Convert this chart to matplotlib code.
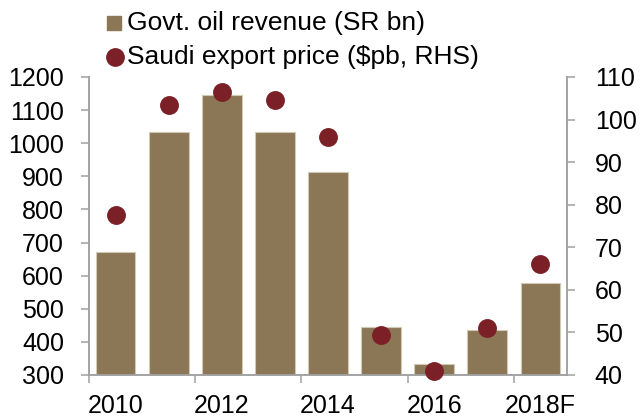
import numpy as np
import matplotlib.pyplot as plt
from matplotlib.lines import Line2D

plt.rcParams['font.family'] = ['Liberation Sans', 'DejaVu Sans']

years = ["2010", "2011", "2012", "2013", "2014", "2015", "2016", "2017", "2018F"]
revenue = [670, 1033, 1145, 1035, 913, 446, 334, 436, 577]
price = [77.5, 103.5, 106.5, 104.5, 96, 49.5, 41, 51, 66]
legend_labels = ["Govt. oil revenue (SR bn)", "Saudi export price ($pb, RHS)"]

bar_color = "#8B7755"
dot_color = "#7B2027"
spine_color = "#A0A0A0"

W, H = 643, 420
fig = plt.figure(figsize=(W / 100, H / 100), dpi=100)
ax = fig.add_axes([89 / W, 1 - 375 / H, (567 - 89) / W, (375 - 77) / H])
ax2 = ax.twinx()

x = np.arange(len(years))
ax.bar(x, revenue, width=0.75, color=bar_color, edgecolor="#D2C8B6", linewidth=0.8, zorder=2)
ax2.scatter(x, price, s=185, color=dot_color, zorder=3, clip_on=False, linewidths=0)

ax.set_xlim(-0.5, len(years) - 0.5)
ax.set_ylim(300, 1200)
ax.set_yticks(np.arange(300, 1201, 100))
ax2.set_ylim(40, 110)
ax2.set_yticks(np.arange(40, 111, 10))

# tick marks on group boundaries, labels under every second year
ax.set_xticks([-0.5, 1.5, 3.5, 5.5, 7.5])
ax.set_xticklabels([])
ax.set_xticks(x[::2], minor=True)
ax.set_xticklabels(years[::2], minor=True)
ax.tick_params(axis='x', which='minor', length=0, pad=14)

for a in (ax, ax2):
    for s in a.spines.values():
        s.set_color(spine_color)
        s.set_linewidth(1.1)
    a.spines['top'].set_visible(False)
    a.tick_params(which='major', direction='out', length=6, width=1.1, color=spine_color, labelsize=18)
    a.tick_params(which='minor', labelsize=18)
ax.tick_params(axis='y', pad=12)
ax2.tick_params(axis='y', pad=14)

# legend drawn by hand at the top left
fig.add_artist(Line2D([114 / W], [1 - 23 / H], marker='s', markersize=10.5, color=bar_color,
                      linestyle='none', transform=fig.transFigure))
fig.add_artist(Line2D([115 / W], [1 - 57 / H], marker='o', markersize=12.5, color=dot_color,
                      linestyle='none', transform=fig.transFigure))
fig.text(127 / W, 1 - 23 / H, legend_labels[0], fontsize=19, va='center', ha='left')
fig.text(127 / W, 1 - 57 / H, legend_labels[1], fontsize=19, va='center', ha='left')

fig.savefig("out.png", dpi=100)
